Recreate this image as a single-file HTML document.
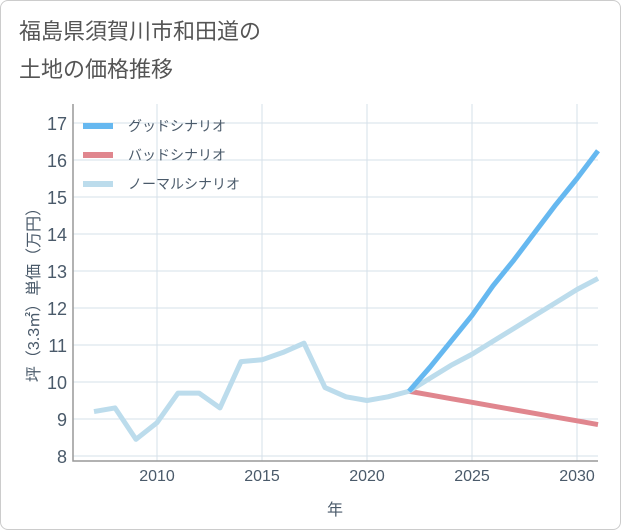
<!DOCTYPE html>
<html><head><meta charset="utf-8"><style>
body{margin:0;background:#fff;}
#card{position:absolute;left:0;top:0;width:619px;height:528px;border:1px solid #ccc;border-radius:8px;background:#fff;overflow:hidden;}
svg text{font-family:"Liberation Sans","Noto Sans CJK JP",sans-serif;}
</style></head><body>
<div id="card">
<svg id="chart" width="621" height="530">
<text x="18" y="38" font-size="22" fill="#555">福島県須賀川市和田道の</text>
<text x="18" y="76" font-size="22" fill="#555">土地の価格推移</text>
<g id="grid"></g><g id="series"></g><g id="legend"></g>
</svg></div>
<script>
const years=[2007,2008,2009,2010,2011,2012,2013,2014,2015,2016,2017,2018,2019,2020,2021,2022,2023,2024,2025,2026,2027,2028,2029,2030,2031];
const normal=[9.2,9.3,8.45,8.9,9.7,9.7,9.3,10.55,10.6,10.8,11.05,9.85,9.6,9.5,9.6,9.75,10.1,10.45,10.75,11.1,11.45,11.8,12.15,12.5,12.8];
const fYears=[2022,2023,2024,2025,2026,2027,2028,2029,2030,2031];
const good=[9.75,10.4,11.1,11.8,12.6,13.3,14.05,14.8,15.5,16.25];
const bad=[9.75,9.65,9.55,9.45,9.35,9.25,9.15,9.05,8.95,8.85];
const xTicks=[2010,2015,2020,2025,2030];
const yTicks=[8,9,10,11,12,13,14,15,16,17];
const L=72,R=597,T=103,B=460;
const x=v=>L+(v-2006)*21;
const y=v=>455-(v-8)*37;
const NS="http://www.w3.org/2000/svg";
const TXT='#4a5a6a';
function mk(tag,attrs,parent,txt){const e=document.createElementNS(NS,tag);for(const k in attrs)e.setAttribute(k,attrs[k]);if(txt!==undefined)e.textContent=txt;parent.appendChild(e);return e;}
const g=document.getElementById('grid');
yTicks.forEach(v=>{
 const l=mk('line',{x1:L,x2:R,y1:y(v),y2:y(v),stroke:'#d5e0ea','stroke-width':1},g);
 
 
 const t=mk('text',{x:L-6,y:y(v)+7,'font-size':18,fill:TXT,'text-anchor':'end'},g,v);
 
 
});
xTicks.forEach(v=>{
 const l=mk('line',{x1:x(v),x2:x(v),y1:T,y2:B,stroke:'#d5e0ea','stroke-width':1},g);
 
 
 const t=mk('text',{x:x(v),y:B+20,'font-size':16,fill:TXT,'text-anchor':'middle'},g,v);
 
 
});
const ax=mk('path',{d:`M${L} ${T}V${B}H${R}`,fill:'none',stroke:'#999','stroke-width':1.5},g);


const xt=mk('text',{x:334,y:514,'font-size':16,fill:TXT,'text-anchor':'middle'},g,'年');


const yt=mk('text',{x:0,y:0,'font-size':16,fill:TXT,'text-anchor':'middle',transform:'translate(38,290) rotate(-90)'},g,'坪（3.3㎡）単価（万円）');


const s=document.getElementById('series');
function line(xs,vs,color,w,name){
 const p=mk('polyline',{points:xs.map((v,i)=>x(v)+','+y(vs[i])).join(' '),fill:'none',stroke:color,'stroke-width':w,'stroke-linejoin':'round'},s);
 
 
}
line(fYears,bad,'#e0868e',5,'bad-scenario-line');
line(years,normal,'#bcdcec',5,'normal-scenario-line');
line(fYears,good,'#66b8f0',5,'good-scenario-line');
const lg=document.getElementById('legend');
[['グッドシナリオ','#66b8f0',125],['バッドシナリオ','#e0868e',154],['ノーマルシナリオ','#bcdcec',183]].forEach(([n,c,yy])=>{
 const r=mk('rect',{x:82,y:yy-3,width:30,height:6,fill:c},lg);
 
 
 const t=mk('text',{x:127,y:yy+5,'font-size':14,fill:TXT},lg,n);
 
 
});
</script>
</body></html>
